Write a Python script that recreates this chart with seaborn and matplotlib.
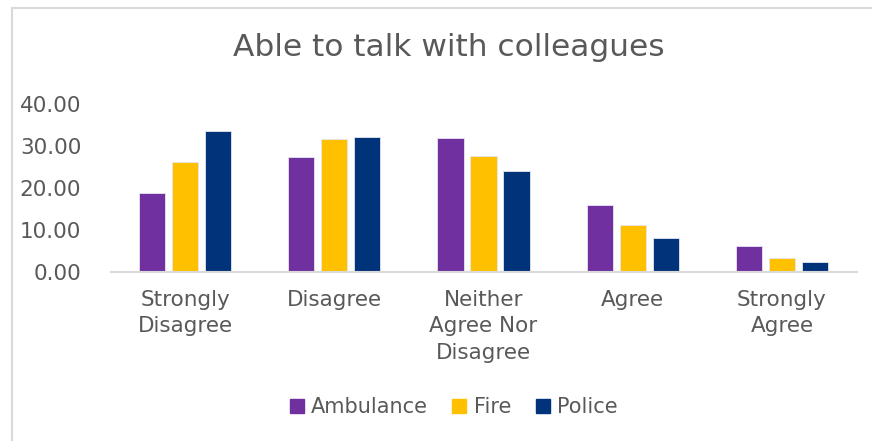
import matplotlib
matplotlib.use("Agg")
import matplotlib.pyplot as plt
from matplotlib.lines import Line2D
import seaborn as sns
import pandas as pd

categories = ["Strongly\nDisagree", "Disagree", "Neither\nAgree Nor\nDisagree", "Agree", "Strongly\nAgree"]
ambulance = [18.7, 27.4, 31.9, 15.8, 6.0]
fire = [26.2, 31.7, 27.6, 11.1, 3.2]
police = [33.6, 32.2, 24.1, 7.9, 2.2]
services = ["Ambulance", "Fire", "Police"]
palette = {"Ambulance": "#7030A0", "Fire": "#FFC000", "Police": "#00337A"}
y_ticks = [0, 10, 20, 30, 40]

rows = []
for name, vals in zip(services, [ambulance, fire, police]):
    for cat, v in zip(categories, vals):
        rows.append({"Response": cat, "Service": name, "Value": v})
df = pd.DataFrame(rows)

sns.set_theme(style="white")
plt.rcParams["font.family"] = ["DejaVu Sans"]
text_color = "#595959"

fig = plt.figure(figsize=(8.72, 4.41), dpi=100)
W, H = 872, 441
ax = fig.add_axes([110.5 / W, 1 - 271.5 / H, (856.5 - 110.5) / W, (271.5 - 104) / H])

sns.barplot(data=df, x="Response", y="Value", hue="Service", order=categories,
            hue_order=services, palette=palette, width=0.664, gap=0.21,
            saturation=1, errorbar=None, ax=ax, legend=False,
            linewidth=0.6, edgecolor="#e6e6f0")

ax.set_xlim(-0.5, 4.5)
ax.set_ylim(0, 40)
ax.set_yticks(y_ticks)
ax.set_yticklabels([f"{t:.2f}" for t in y_ticks])
ax.set_xlabel("")
ax.set_ylabel("")
for s in ["top", "right", "left"]:
    ax.spines[s].set_visible(False)
ax.spines["bottom"].set_color("#d9d9d9")
ax.spines["bottom"].set_linewidth(1.5)
ax.tick_params(axis="both", length=0, colors=text_color, labelsize=15.5)
ax.tick_params(axis="y", pad=21)
ax.tick_params(axis="x", pad=13)
for lbl in ax.get_xticklabels():
    lbl.set_linespacing(1.42)

fig.text(449 / W, 1 - 47 / H, "Able to talk with colleagues", ha="center", va="center",
         fontsize=22.5, color=text_color)

handles = [Line2D([], [], marker="s", linestyle="", markersize=9.5,
                  markerfacecolor=palette[s], markeredgecolor=palette[s]) for s in services]
fig.legend(handles, services, loc="center", bbox_to_anchor=(452 / W, 1 - 407 / H),
           ncol=3, frameon=False, fontsize=15, labelcolor=text_color,
           handletextpad=0.2, columnspacing=1.0, handlelength=1.0)

# chart border
fig.add_artist(Line2D([12 / W, 12 / W], [0, 1 - 8 / H], color="#d9d9d9", lw=1.5, transform=fig.transFigure))
fig.add_artist(Line2D([12 / W, 1], [1 - 8 / H, 1 - 8 / H], color="#d9d9d9", lw=1.5, transform=fig.transFigure))

fig.savefig("out.png", dpi=100, facecolor="white")
